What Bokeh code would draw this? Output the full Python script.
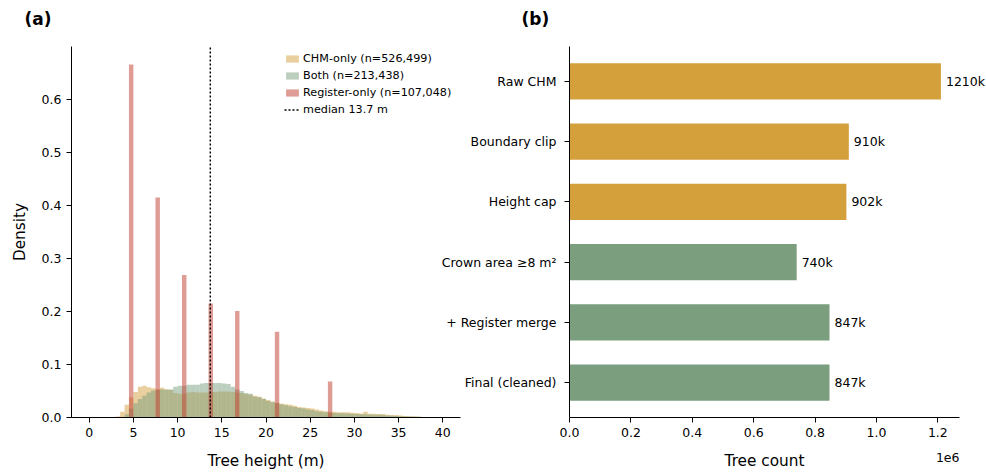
import numpy as np
from bokeh.plotting import figure
from bokeh.models import (Range1d, FactorRange, FixedTicker, PrintfTickFormatter,
                          Legend, LegendItem, ColumnDataSource)
from bokeh.core.properties import value
from bokeh.layouts import row
from bokeh.embed import file_html
from bokeh.resources import INLINE

FONT = "DejaVu Sans"

# ---------------- data: panel (a) ----------------
bin_width = 0.5
bin_left = [i * bin_width for i in range(80)]
chm_only_density = [
    0, 0, 0, 0, 0, 0, 0.002, 0.011, 0.024, 0.038,
    0.048, 0.058, 0.060, 0.057, 0.055, 0.054, 0.056, 0.053, 0.052, 0.046,
    0.045, 0.045, 0.047, 0.048, 0.047, 0.047, 0.047, 0.047, 0.048, 0.049,
    0.049, 0.049, 0.048, 0.047, 0.046, 0.044, 0.043, 0.041, 0.039, 0.036,
    0.033, 0.030, 0.028, 0.026, 0.025, 0.024, 0.022, 0.020, 0.019, 0.018,
    0.017, 0.015, 0.013, 0.012, 0.011, 0.011, 0.010, 0.010, 0.010, 0.009,
    0.0085, 0.0075, 0.011, 0.007, 0.007, 0.0065, 0.0065, 0.005, 0.0045, 0.0045,
    0.004, 0.003, 0.0025, 0.0025, 0.002, 0.001, 0.001, 0.0008, 0.0006, 0.0005,
]
both_density = [
    0, 0, 0, 0, 0, 0, 0, 0.001, 0.006, 0.017,
    0.027, 0.035, 0.041, 0.047, 0.051, 0.052, 0.053, 0.053, 0.053, 0.058,
    0.060, 0.060, 0.062, 0.062, 0.062, 0.064, 0.065, 0.065, 0.065, 0.065,
    0.064, 0.063, 0.058, 0.053, 0.050, 0.046, 0.045, 0.039, 0.038, 0.035,
    0.031, 0.029, 0.027, 0.025, 0.023, 0.021, 0.020, 0.018, 0.017, 0.015,
    0.014, 0.012, 0.011, 0.010, 0.009, 0.0085, 0.008, 0.0078, 0.0075, 0.007,
    0.0065, 0.006, 0.006, 0.0055, 0.005, 0.005, 0.0045, 0.004, 0.0035, 0.003,
    0.0025, 0.002, 0.002, 0.0015, 0.0012, 0.001, 0.0008, 0.0006, 0.0005, 0.0004,
]
register_bin_left = [4.5, 7.5, 10.5, 13.5, 16.5, 21.0, 27.0]
register_density = [0.666, 0.415, 0.269, 0.215, 0.201, 0.162, 0.068]
median_height = 13.7
series_labels = ["CHM-only (n=526,499)", "Both (n=213,438)",
                 "Register-only (n=107,048)", "median 13.7 m"]
x_ticks_a = [0, 5, 10, 15, 20, 25, 30, 35, 40]
y_ticks_a = [0.0, 0.1, 0.2, 0.3, 0.4, 0.5, 0.6]

# ---------------- data: panel (b) ----------------
stages = ["Raw CHM", "Boundary clip", "Height cap", "Crown area \u22658 m\u00b2",
          "+ Register merge", "Final (cleaned)"]
tree_counts = [1210000, 910000, 902000, 740000, 847000, 847000]
x_ticks_b = [0, 200000, 400000, 600000, 800000, 1000000, 1200000]

ORANGE = "#D4A03C"
GREEN = "#7A9E7E"
RED = "#C0392B"


def style_axes(p):
    p.outline_line_color = None
    p.xgrid.visible = False
    p.ygrid.visible = False
    for ax in [p.xaxis[0], p.yaxis[0]]:
        ax.axis_line_color = "black"
        ax.axis_line_width = 1
        ax.major_tick_line_color = "black"
        ax.major_tick_line_width = 1
        ax.major_tick_out = 5
        ax.major_tick_in = 0
        ax.minor_tick_line_color = None
        ax.major_label_text_font = FONT
        ax.major_label_text_font_size = "12.5px"
        ax.major_label_text_color = "black"
        ax.major_label_standoff = 5
        ax.axis_label_text_font = FONT
        ax.axis_label_text_font_size = "15.3px"
        ax.axis_label_text_font_style = "normal"
        ax.axis_label_text_color = "black"


def panel_tag(p, x, y, text, dx):
    # panel letter drawn above the top-left corner of the frame
    p.text(x=[x], y=[y], text=[text], x_offset=dx, y_offset=-28, level="overlay",
           text_font=value(FONT), text_font_size=value("17px"),
           text_font_style="bold", text_align="left", text_baseline="middle",
           text_color="black")


# ---------------- panel (a) ----------------
W1 = 480
X_RANGE_A = (-2, 42)
Y_TOP_A = 0.7
p1 = figure(width=W1, height=473, output_backend="svg", toolbar_location=None,
            x_range=Range1d(*X_RANGE_A), y_range=Range1d(0, Y_TOP_A),
            min_border_left=71, min_border_right=W1 - 460,
            min_border_top=46, min_border_bottom=56)
style_axes(p1)
p1.background_fill_color = "white"
p1.border_fill_color = "white"

bl = np.array(bin_left)
r_chm = p1.quad(left=bl, right=bl + bin_width, bottom=0, top=chm_only_density,
                fill_color=ORANGE, fill_alpha=0.5, line_color=None)
r_both = p1.quad(left=bl, right=bl + bin_width, bottom=0, top=both_density,
                 fill_color=GREEN, fill_alpha=0.5, line_color=None)
rbl = np.array(register_bin_left)
r_reg = p1.quad(left=rbl, right=rbl + bin_width, bottom=0, top=register_density,
                fill_color=RED, fill_alpha=0.5, line_color=None)
r_med = p1.line(x=[median_height, median_height], y=[0, Y_TOP_A], line_color="black",
                line_width=1.5, line_dash="2 2")

p1.xaxis.ticker = FixedTicker(ticks=x_ticks_a)
p1.yaxis.ticker = FixedTicker(ticks=y_ticks_a)
p1.yaxis.formatter = PrintfTickFormatter(format="%.1f")
p1.xaxis.axis_label = "Tree height (m)"
p1.yaxis.axis_label = "Density"
p1.xaxis.axis_label_standoff = 12
p1.yaxis.axis_label_standoff = 10

legend = Legend(items=[LegendItem(label=series_labels[0], renderers=[r_chm]),
                       LegendItem(label=series_labels[1], renderers=[r_both]),
                       LegendItem(label=series_labels[2], renderers=[r_reg]),
                       LegendItem(label=series_labels[3], renderers=[r_med])],
                location=(213, 299), padding=2, margin=0, spacing=0,
                label_height=17, glyph_height=9, glyph_width=16, label_standoff=3,
                label_text_font=FONT, label_text_font_size="11.2px",
                label_text_color="black",
                border_line_color=None, background_fill_alpha=0)
p1.add_layout(legend)
panel_tag(p1, X_RANGE_A[0], Y_TOP_A, "(a)", -47)

# ---------------- panel (b) ----------------
X0_B = 430
W2 = 986 - X0_B
x_end = max(tree_counts) * 1.05
pad_b = 0.16 / 6
p2 = figure(width=W2, height=473, output_backend="svg", toolbar_location=None,
            x_range=Range1d(0, x_end),
            y_range=FactorRange(factors=stages[::-1], range_padding=pad_b),
            min_border_left=569 - X0_B, min_border_right=986 - 959,
            min_border_top=46, min_border_bottom=56)
style_axes(p2)
p2.background_fill_alpha = 0
p2.border_fill_alpha = 0
p2.margin = (0, 0, 0, -(W1 - X0_B))

bar_colors = [ORANGE] * 3 + [GREEN] * 3
src = ColumnDataSource(dict(stage=stages, count=tree_counts, color=bar_colors,
                            label=[f"{c / 1000:.0f}k" for c in tree_counts]))
p2.hbar(y="stage", right="count", left=0, height=0.6, fill_color="color",
        line_color=None, source=src)
p2.text(x="count", y="stage", text="label", x_offset=5, source=src, level="overlay",
        text_font=value(FONT), text_font_size=value("12.5px"),
        text_baseline="middle", text_align="left", text_color="black")

p2.xaxis.ticker = FixedTicker(ticks=x_ticks_b)
p2.xaxis.major_label_overrides = {t: f"{t / 1e6:.1f}" for t in x_ticks_b}
p2.xaxis.axis_label = "Tree count"
p2.xaxis.axis_label_standoff = 12
p2.yaxis.major_label_standoff = 8

y_bot_b = -len(stages) * pad_b / 2
y_top_b = len(stages) + len(stages) * pad_b / 2
# offset text of the scaled x axis, anchored at the axis end
p2.text(x=[x_end], y=[y_bot_b], text=["1e6"], y_offset=40, level="overlay",
        text_font=value(FONT), text_font_size=value("12.5px"),
        text_align="right", text_baseline="middle", text_color="black")
panel_tag(p2, 0, y_top_b, "(b)", -48)

layout = row(p1, p2, spacing=0)
open("out.html", "w").write(file_html(layout, INLINE))
